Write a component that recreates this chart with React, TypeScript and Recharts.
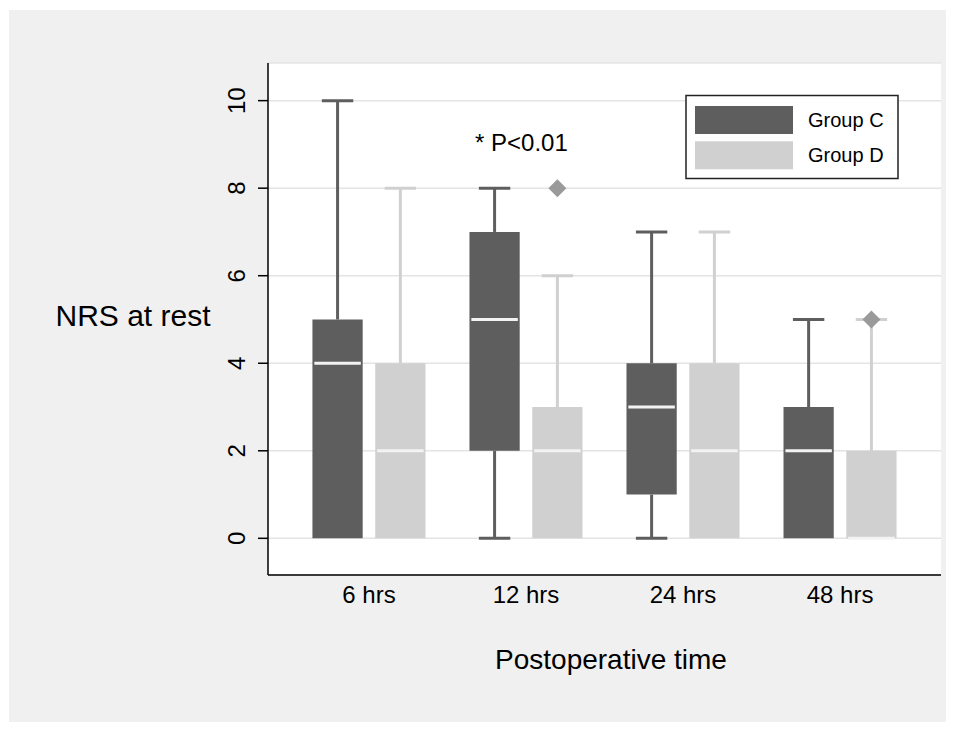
import React from "react";
import {
  ComposedChart,
  XAxis,
  YAxis,
  CartesianGrid,
  ReferenceArea,
  ReferenceLine,
  Scatter,
} from "recharts";

// categories and ticks
const times = ["6 hrs", "12 hrs", "24 hrs", "48 hrs"];
const yTicks = [0, 2, 4, 6, 8, 10];

// box plot summaries
const groupCMin = [0, 0, 0, 0];
const groupCQ1 = [0, 2, 1, 0];
const groupCMedian = [4, 5, 3, 2];
const groupCQ3 = [5, 7, 4, 3];
const groupCMax = [10, 8, 7, 5];

const groupDMin = [0, 0, 0, 0];
const groupDQ1 = [0, 0, 0, 0];
const groupDMedian = [2, 2, 2, 0];
const groupDQ3 = [4, 3, 4, 2];
const groupDMax = [8, 6, 7, 5];

// outside values of group D: time index, value
const groupDOutliers = [
  { time: 1, value: 8 },
  { time: 3, value: 5 },
];

const C_COLOR = "#5e5e5e";
const D_COLOR = "#d0d0d0";
const OUT_COLOR = "#9a9a9a";
const MED_COLOR = "#f3f3f3";
const FONT = '"Liberation Sans", Arial, Helvetica, sans-serif';

const OFFSET = 0.2;
const BOX_HALF = 0.16;
const CAP_HALF = 0.1;
const MED_HALF = 0.148;

const groups = [
  { name: "Group C", color: C_COLOR, offset: -OFFSET, min: groupCMin, q1: groupCQ1, med: groupCMedian, q3: groupCQ3, max: groupCMax },
  { name: "Group D", color: D_COLOR, offset: OFFSET, min: groupDMin, q1: groupDQ1, med: groupDMedian, q3: groupDQ3, max: groupDMax },
];

const outlierPoints = groupDOutliers.map((p) => ({ x: p.time + OFFSET, y: p.value }));

const YTick = (props: any) => {
  const { x, y, payload } = props;
  return (
    <text
      transform={`translate(${x - 13.5},${y}) rotate(-90)`}
      textAnchor="middle"
      fontSize={24}
      fontFamily={FONT}
      fill="#000"
    >
      {payload.value}
    </text>
  );
};

const XTick = (props: any) => {
  const { x, y, payload } = props;
  return (
    <text x={x} y={y + 28} textAnchor="middle" fontSize={24} fontFamily={FONT} fill="#000">
      {times[payload.value]}
    </text>
  );
};

const Diamond = (props: any) => {
  const { cx, cy } = props;
  const r = 9;
  return (
    <polygon
      points={`${cx},${cy - r} ${cx + r},${cy} ${cx},${cy + r} ${cx - r},${cy}`}
      fill={OUT_COLOR}
    />
  );
};

function boxElements() {
  const out: React.ReactNode[] = [];
  groups.forEach((g, gi) => {
    times.forEach((_, i) => {
      const cx = i + g.offset;
      const key = `${gi}-${i}`;
      out.push(
        <ReferenceArea
          key={`box-${key}`}
          x1={cx - BOX_HALF}
          x2={cx + BOX_HALF}
          y1={g.q1[i]}
          y2={g.q3[i]}
          fill={g.color}
          fillOpacity={1}
          stroke="none"
          ifOverflow="visible"
        />
      );
      if (g.min[i] < g.q1[i]) {
        out.push(
          <ReferenceLine key={`lw-${key}`} segment={[{ x: cx, y: g.min[i] }, { x: cx, y: g.q1[i] }]} stroke={g.color} strokeWidth={3} />,
          <ReferenceLine key={`lc-${key}`} segment={[{ x: cx - CAP_HALF, y: g.min[i] }, { x: cx + CAP_HALF, y: g.min[i] }]} stroke={g.color} strokeWidth={3} />
        );
      }
      if (g.max[i] > g.q3[i]) {
        out.push(
          <ReferenceLine key={`uw-${key}`} segment={[{ x: cx, y: g.q3[i] }, { x: cx, y: g.max[i] }]} stroke={g.color} strokeWidth={3} />,
          <ReferenceLine key={`uc-${key}`} segment={[{ x: cx - CAP_HALF, y: g.max[i] }, { x: cx + CAP_HALF, y: g.max[i] }]} stroke={g.color} strokeWidth={3} />
        );
      }
      out.push(
        <ReferenceLine key={`md-${key}`} segment={[{ x: cx - MED_HALF, y: g.med[i] }, { x: cx + MED_HALF, y: g.med[i] }]} stroke={MED_COLOR} strokeWidth={3} />
      );
    });
  });
  return out;
}

export default function App() {
  return (
    <div style={{ position: "absolute", left: 0, top: 0, width: 955, height: 735, background: "#fff" }}>
      <div style={{ position: "absolute", left: 9, top: 10, width: 937, height: 712, background: "#f0f0f0" }} />
      <div style={{ position: "absolute", left: 0, top: 0 }}>
        <ComposedChart width={955} height={735} margin={{ top: 63, right: 14, bottom: 130, left: 208 }}>
          <CartesianGrid vertical={false} stroke="#e4e4e4" strokeWidth={1.5} fill="#fff" fillOpacity={1} />
          <XAxis
            type="number"
            dataKey="x"
            domain={[-0.643, 3.643]}
            ticks={[0, 1, 2, 3]}
            allowDataOverflow
            height={30}
            tickLine={false}
            tickSize={0}
            tickMargin={0}
            axisLine={{ stroke: "#000", strokeWidth: 1.5 }}
            tick={<XTick />}
          />
          <YAxis
            type="number"
            dataKey="y"
            domain={[-0.838, 10.86]}
            ticks={yTicks}
            allowDataOverflow
            width={60}
            tickSize={10}
            tickMargin={0}
            axisLine={{ stroke: "#000", strokeWidth: 1.5 }}
            tickLine={{ stroke: "#000", strokeWidth: 1.5 }}
            tick={<YTick />}
          />
          {boxElements()}
          <Scatter data={outlierPoints} fill={OUT_COLOR} shape={<Diamond />} isAnimationActive={false} />
        </ComposedChart>
      </div>
      <svg width={955} height={735} style={{ position: "absolute", left: 0, top: 0, pointerEvents: "none" }}>
        <text x={475} y={151} fontSize={24} fontFamily={FONT} fill="#000">* P&lt;0.01</text>
        <text x={133} y={326} textAnchor="middle" fontSize={30} fontFamily={FONT} fill="#000">NRS at rest</text>
        <text x={611} y={669} textAnchor="middle" fontSize={28} fontFamily={FONT} fill="#000">Postoperative time</text>
        <rect x={686} y={95.5} width={212} height={83} fill="#fff" stroke="#222" strokeWidth={1.5} />
        {groups.map((g, i) => (
          <g key={g.name}>
            <rect x={695} y={106 + i * 35.3} width={98} height={28} fill={g.color} />
            <text x={808} y={127 + i * 35} fontSize={20} fontFamily={FONT} fill="#000">{g.name}</text>
          </g>
        ))}
      </svg>
    </div>
  );
}
